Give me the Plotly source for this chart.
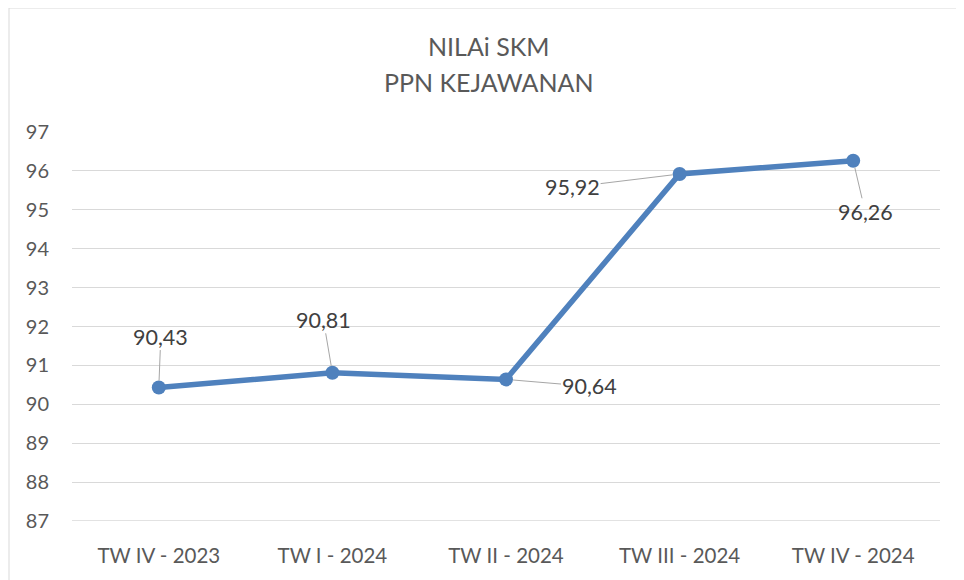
import plotly.graph_objects as go

categories = ["TW IV - 2023", "TW I - 2024", "TW II - 2024", "TW III - 2024", "TW IV - 2024"]
values = [90.43, 90.81, 90.64, 95.92, 96.26]
labels = ["90,43", "90,81", "90,64", "95,92", "96,26"]
y_ticks = [87, 88, 89, 90, 91, 92, 93, 94, 95, 96, 97]
title_lines = ["NILAi SKM", "PPN KEJAWANAN"]

# label offsets (pixels) from point to label centre
label_offsets = [(2, -51), (-9, -53), (83, 7), (-107, 13), (12, 51)]

FONT = "Lato"
TXT = "#595959"
OFF = 8  # page body margin

fig = go.Figure()
fig.add_trace(go.Scatter(
    x=categories, y=values, mode="lines+markers",
    line=dict(color="#4F81BD", width=5.5),
    marker=dict(color="#4F81BD", size=14),
    hoverinfo="skip", showlegend=False,
))

for c, v, t, (ax, ay) in zip(categories, values, labels, label_offsets):
    fig.add_annotation(x=c, y=v, xref="x", yref="y", text=t,
                       showarrow=True, arrowhead=0, arrowwidth=1, arrowcolor="#A6A6A6",
                       ax=ax, ay=ay, standoff=7, borderpad=0,
                       font=dict(family=FONT, size=21.5, color="#404040"))

W, H = 964 - OFF, 580 - OFF
L, R, T, B = 72 - OFF, 24, 132 - OFF, 59
pw, ph = W - L - R, H - T - B

def px_to_paper(xp, yp):
    # screen pixel -> paper coords
    return (xp - OFF - L) / pw, (H - B - (yp - OFF)) / ph

tx, ty1 = px_to_paper(489, 46)
_, ty2 = px_to_paper(489, 82)
for txt, ty in zip(title_lines, [ty1, ty2]):
    fig.add_annotation(x=tx, y=ty, xref="paper", yref="paper", text=txt, showarrow=False,
                       font=dict(family=FONT, size=25, color=TXT), xanchor="center", yanchor="middle")

bx0, by1 = px_to_paper(9, 8)
bx1, by0 = px_to_paper(990, 600)
fig.add_shape(type="rect", xref="paper", yref="paper", x0=bx0, x1=bx1, y0=by0, y1=by1,
              line=dict(color="#D9D9D9", width=1), fillcolor="rgba(0,0,0,0)", layer="below")
fig.add_shape(type="line", xref="paper", yref="y", x0=0, x1=1, y0=y_ticks[0], y1=y_ticks[0],
              line=dict(color="#D9D9D9", width=1.3), layer="below")

fig.update_layout(
    width=W, height=H,
    margin=dict(l=L, r=R, t=T, b=B, pad=0, autoexpand=False),
    paper_bgcolor="white", plot_bgcolor="white",
    font=dict(family=FONT, size=18, color=TXT),
    xaxis=dict(type="category", range=[-0.5, 4.5], showgrid=False, showline=False,
               zeroline=False, ticks="", ticklabelstandoff=20, automargin=False,
               tickfont=dict(family=FONT, size=20.5, color=TXT)),
    yaxis=dict(range=[87, 97], tickvals=y_ticks, ticktext=[str(t) for t in y_ticks],
               showgrid=True, gridcolor="#D9D9D9", gridwidth=1.3, zeroline=False,
               showline=False, ticks="", ticklabelstandoff=22, automargin=False,
               tickfont=dict(family=FONT, size=20, color=TXT)),
)

fig.write_html("out.html")
